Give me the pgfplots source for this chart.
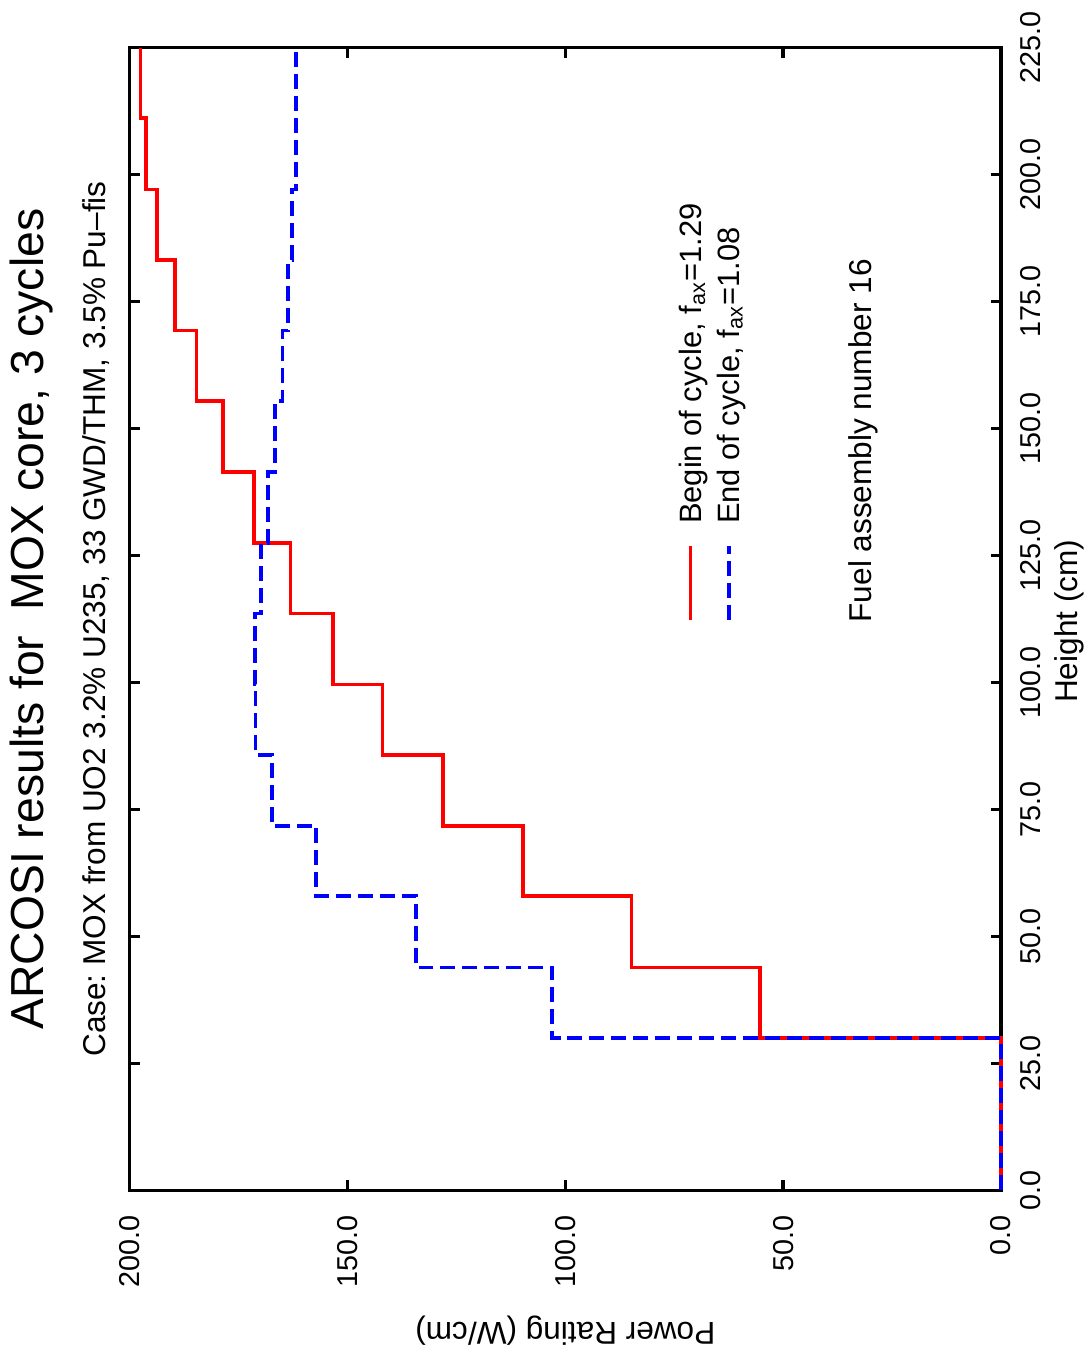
\documentclass[border=0pt]{standalone}
\usepackage{graphicx}
\usepackage{fontspec}
\setmainfont{Liberation Sans}
\usepackage{pgfplots}
\pgfplotsset{compat=1.18}
\frenchspacing
\begin{document}
\rotatebox{90}{%
\begin{tikzpicture}
\begin{axis}[
  scale only axis, width=114.5mm, height=87.3mm,
  xmin=0, xmax=225, ymin=0, ymax=200,
  xtick={0,25,...,225}, ytick={0,50,...,200},
  tick align=inside, major tick length=1mm,
  axis line style={line width=1pt},
  every tick/.style={black, line width=1pt},
  xticklabel={\pgfmathprintnumber[fixed,fixed zerofill,precision=1,assume math mode=true]{\tick}},
  yticklabel={\pgfmathprintnumber[fixed,fixed zerofill,precision=1,assume math mode=true]{\tick}},
  xticklabel style={font=\fontsize{8.2}{9}\selectfont, yshift=-0.75mm},
  yticklabel style={font=\fontsize{8.2}{9}\selectfont, xshift=-1.25mm},
  clip=false,
]
% Begin of cycle
\addplot[const plot, red, line width=1.05pt] coordinates {
  (0,0) (30,55.3) (43.9,84.8) (57.9,109.7) (71.8,128.1) (85.7,142.0)
  (99.6,153.4) (113.6,163.1) (127.5,171.4) (141.4,178.6) (155.4,184.7)
  (169.3,189.6) (183.2,193.7) (197.1,196.3) (211.1,197.5) (225,197.5)};
% End of cycle
\addplot[const plot, blue, line width=1.05pt, dash pattern=on 1.5mm off 0.7mm] coordinates {
  (0,0) (30,103.0) (43.9,134.3) (57.9,157.2) (71.8,167.4) (85.7,171.1)
  (99.6,171.2) (113.6,169.8) (127.5,168.2) (141.4,166.6) (155.4,164.9)
  (169.3,163.6) (183.2,162.8) (197.1,161.8) (211.1,161.8) (225,161.8)};
% legend, by hand
\draw[red, line width=1.05pt] (axis cs:112.4,71.3) -- (axis cs:126.8,71.3);
\draw[blue, line width=1.05pt, dash pattern=on 1.5mm off 0.7mm] (axis cs:112.4,62.5) -- (axis cs:126.8,62.5);
\node[anchor=base west, inner sep=0, font=\fontsize{8.8}{10}\selectfont] at (axis cs:131.1,68.7)
  {Begin of cycle,\ f\textsubscript{ax}=1.29};
\node[anchor=base west, inner sep=0, font=\fontsize{8.8}{10}\selectfont] at (axis cs:131.1,60.1)
  {End of cycle,\ f\textsubscript{ax}=1.08};
\node[anchor=base west, inner sep=0, font=\fontsize{9}{10}\selectfont] at (axis cs:111.7,29.7)
  {Fuel assembly number 16};
% titles and axis labels
\node[anchor=base, inner sep=0, font=\fontsize{13.2}{15}\selectfont] at (rel axis cs:0.5,1.0985)
  {ARCOSI results for\ \ MOX core, 3 cycles};
\node[anchor=base, inner sep=0, font=\fontsize{9}{11}\selectfont] at (rel axis cs:0.5,1.0275)
  {Case: MOX from UO2 3.2\% U235, 33 GWD/THM, 3.5\% Pu–fis};
\node[anchor=base, inner sep=0, font=\fontsize{9}{10}\selectfont] at (rel axis cs:0.498,-0.0882)
  {Height (cm)};
\node[anchor=base, inner sep=0, rotate=90, font=\fontsize{9}{10}\selectfont] at (rel axis cs:-0.1153,0.5)
  {Power Rating (W/cm)};
\path (rel axis cs:-0.1441,-0.1042) rectangle (rel axis cs:1.0393,1.1489);
\end{axis}
\end{tikzpicture}}
\end{document}
